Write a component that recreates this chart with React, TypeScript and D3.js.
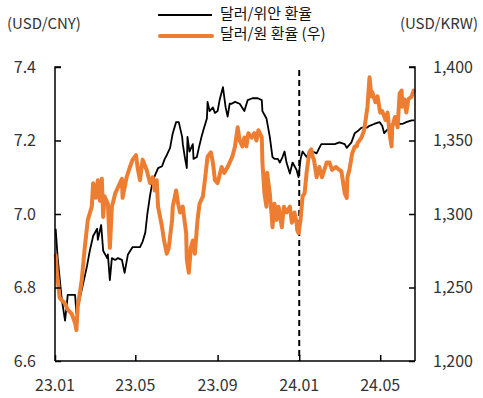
import { useEffect, useRef } from 'react';
import * as d3 from 'd3';

// 달러/위안 (left axis)
const cnyData: [string, number][] = [
  ['2023-01-02', 6.96], ['2023-01-05', 6.88], ['2023-01-11', 6.77], ['2023-01-16', 6.71],
  ['2023-01-19', 6.76], ['2023-01-20', 6.78], ['2023-01-31', 6.78], ['2023-02-02', 6.73],
  ['2023-02-07', 6.77], ['2023-02-12', 6.81], ['2023-02-18', 6.86], ['2023-02-22', 6.90],
  ['2023-02-27', 6.94], ['2023-03-05', 6.96], ['2023-03-06', 6.93], ['2023-03-11', 6.97],
  ['2023-03-14', 6.90], ['2023-03-20', 6.88], ['2023-03-21', 6.89], ['2023-03-24', 6.82],
  ['2023-03-27', 6.88], ['2023-04-01', 6.875], ['2023-04-05', 6.88], ['2023-04-11', 6.875],
  ['2023-04-15', 6.84], ['2023-04-20', 6.89], ['2023-04-27', 6.91], ['2023-05-05', 6.91],
  ['2023-05-08', 6.91], ['2023-05-12', 6.925], ['2023-05-16', 6.95], ['2023-05-19', 7.0],
  ['2023-05-23', 7.05], ['2023-05-27', 7.09], ['2023-06-04', 7.125], ['2023-06-10', 7.13],
  ['2023-06-14', 7.15], ['2023-06-17', 7.16], ['2023-06-22', 7.18], ['2023-06-26', 7.22],
  ['2023-07-01', 7.25], ['2023-07-05', 7.25], ['2023-07-10', 7.21], ['2023-07-11', 7.19],
  ['2023-07-14', 7.155], ['2023-07-17', 7.125], ['2023-07-18', 7.21], ['2023-07-21', 7.17],
  ['2023-07-26', 7.19], ['2023-07-27', 7.15], ['2023-08-01', 7.155], ['2023-08-04', 7.18],
  ['2023-08-08', 7.21], ['2023-08-11', 7.23], ['2023-08-16', 7.26], ['2023-08-17', 7.305],
  ['2023-08-20', 7.28], ['2023-08-25', 7.29], ['2023-08-28', 7.275], ['2023-09-01', 7.28],
  ['2023-09-04', 7.31], ['2023-09-09', 7.345], ['2023-09-13', 7.29], ['2023-09-16', 7.265],
  ['2023-09-19', 7.30], ['2023-09-22', 7.30], ['2023-09-27', 7.305], ['2023-10-04', 7.30],
  ['2023-10-11', 7.28], ['2023-10-16', 7.31], ['2023-10-23', 7.315], ['2023-10-31', 7.315],
  ['2023-11-06', 7.31], ['2023-11-07', 7.28], ['2023-11-13', 7.26], ['2023-11-18', 7.21],
  ['2023-11-22', 7.155], ['2023-11-25', 7.15], ['2023-11-30', 7.15], ['2023-12-03', 7.14],
  ['2023-12-07', 7.155], ['2023-12-10', 7.17], ['2023-12-13', 7.14], ['2023-12-18', 7.11],
  ['2023-12-22', 7.14], ['2023-12-28', 7.12], ['2023-12-31', 7.10], ['2024-01-03', 7.15],
  ['2024-01-06', 7.17], ['2024-01-12', 7.155], ['2024-01-16', 7.17], ['2024-01-21', 7.17],
  ['2024-01-27', 7.165], ['2024-01-31', 7.18], ['2024-02-03', 7.19], ['2024-02-08', 7.19],
  ['2024-02-15', 7.19], ['2024-02-23', 7.19], ['2024-03-01', 7.195], ['2024-03-09', 7.19],
  ['2024-03-12', 7.18], ['2024-03-19', 7.195], ['2024-03-24', 7.22], ['2024-03-28', 7.225],
  ['2024-04-03', 7.235], ['2024-04-11', 7.235], ['2024-04-15', 7.24], ['2024-04-22', 7.245],
  ['2024-04-30', 7.25], ['2024-05-04', 7.24], ['2024-05-07', 7.22], ['2024-05-12', 7.23],
  ['2024-05-19', 7.245], ['2024-05-27', 7.245], ['2024-06-03', 7.245], ['2024-06-09', 7.25],
  ['2024-06-17', 7.255], ['2024-06-21', 7.255],
];

// 달러/원 (right axis)
const krwData: [string, number][] = [
  ['2023-01-02', 1272], ['2023-01-04', 1260], ['2023-01-08', 1243], ['2023-01-16', 1239],
  ['2023-01-20', 1235], ['2023-01-26', 1232], ['2023-01-31', 1226], ['2023-02-02', 1221],
  ['2023-02-04', 1237], ['2023-02-10', 1255], ['2023-02-14', 1275], ['2023-02-19', 1296],
  ['2023-02-25', 1305], ['2023-02-27', 1321], ['2023-03-03', 1311], ['2023-03-06', 1323],
  ['2023-03-09', 1309], ['2023-03-12', 1324], ['2023-03-14', 1298], ['2023-03-16', 1312],
  ['2023-03-21', 1307], ['2023-03-24', 1277], ['2023-03-27', 1305], ['2023-04-01', 1314],
  ['2023-04-05', 1318], ['2023-04-11', 1324], ['2023-04-12', 1311], ['2023-04-18', 1325],
  ['2023-04-23', 1332], ['2023-04-27', 1337], ['2023-05-02', 1340], ['2023-05-05', 1330],
  ['2023-05-08', 1323], ['2023-05-12', 1337], ['2023-05-18', 1330], ['2023-05-23', 1321],
  ['2023-05-27', 1325], ['2023-05-30', 1316], ['2023-06-02', 1323], ['2023-06-04', 1305],
  ['2023-06-10', 1291], ['2023-06-13', 1282], ['2023-06-17', 1273], ['2023-06-20', 1277],
  ['2023-06-25', 1296], ['2023-06-26', 1305], ['2023-07-01', 1316], ['2023-07-04', 1307],
  ['2023-07-07', 1301], ['2023-07-11', 1305], ['2023-07-12', 1301], ['2023-07-16', 1287],
  ['2023-07-17', 1269], ['2023-07-20', 1260], ['2023-07-23', 1277], ['2023-07-26', 1282],
  ['2023-07-29', 1273], ['2023-08-02', 1296], ['2023-08-05', 1307], ['2023-08-10', 1312],
  ['2023-08-13', 1323], ['2023-08-17', 1339], ['2023-08-22', 1342], ['2023-08-25', 1335],
  ['2023-08-28', 1323], ['2023-09-01', 1321], ['2023-09-07', 1332], ['2023-09-11', 1328],
  ['2023-09-16', 1332], ['2023-09-19', 1335], ['2023-09-23', 1339], ['2023-09-27', 1346],
  ['2023-10-01', 1359], ['2023-10-04', 1350], ['2023-10-08', 1346], ['2023-10-11', 1352],
  ['2023-10-14', 1346], ['2023-10-17', 1355], ['2023-10-22', 1352], ['2023-10-26', 1355],
  ['2023-10-29', 1350], ['2023-11-01', 1357], ['2023-11-06', 1352], ['2023-11-07', 1335],
  ['2023-11-10', 1314], ['2023-11-13', 1305], ['2023-11-14', 1328], ['2023-11-18', 1314],
  ['2023-11-21', 1298], ['2023-11-22', 1291], ['2023-11-25', 1307], ['2023-11-28', 1296],
  ['2023-12-01', 1305], ['2023-12-06', 1291], ['2023-12-09', 1305], ['2023-12-13', 1301],
  ['2023-12-18', 1305], ['2023-12-21', 1294], ['2023-12-25', 1301], ['2023-12-28', 1294],
  ['2023-12-29', 1289], ['2023-12-31', 1287], ['2024-01-03', 1296], ['2024-01-06', 1312],
  ['2024-01-09', 1314], ['2024-01-12', 1328], ['2024-01-16', 1342], ['2024-01-19', 1344],
  ['2024-01-21', 1339], ['2024-01-23', 1337], ['2024-01-27', 1325], ['2024-01-31', 1332],
  ['2024-02-04', 1325], ['2024-02-11', 1335], ['2024-02-15', 1335], ['2024-02-19', 1330],
  ['2024-02-25', 1332], ['2024-03-01', 1330], ['2024-03-04', 1329], ['2024-03-09', 1314],
  ['2024-03-12', 1311], ['2024-03-13', 1325], ['2024-03-16', 1330], ['2024-03-20', 1341],
  ['2024-03-24', 1346], ['2024-03-27', 1346], ['2024-03-28', 1348], ['2024-04-03', 1352],
  ['2024-04-07', 1357], ['2024-04-12', 1373], ['2024-04-15', 1393], ['2024-04-18', 1380],
  ['2024-04-19', 1383], ['2024-04-24', 1376], ['2024-04-27', 1380], ['2024-05-01', 1369],
  ['2024-05-04', 1370], ['2024-05-09', 1364], ['2024-05-12', 1369], ['2024-05-15', 1355],
  ['2024-05-18', 1346], ['2024-05-19', 1359], ['2024-05-23', 1366], ['2024-05-27', 1359],
  ['2024-05-30', 1382], ['2024-06-02', 1384], ['2024-06-03', 1373], ['2024-06-06', 1378],
  ['2024-06-09', 1369], ['2024-06-12', 1378], ['2024-06-17', 1380], ['2024-06-20', 1384],
];

const cnyTicks = [6.6, 6.8, 7.0, 7.2, 7.4];
const krwTicks = [1200, 1250, 1300, 1350, 1400];
const xTicks = ['2023-01-01', '2023-05-01', '2023-09-01', '2024-01-01', '2024-05-01'];
const xTickLabels = ['23.01', '23.05', '23.09', '24.01', '24.05'];
const dividerDate = '2024-01-01';
const seriesNames = ['달러/위안 환율', '달러/원 환율 (우)'];

const ORANGE = '#ED7D31';
const FONT = '"Noto Sans CJK KR", "Noto Sans", sans-serif';

const App = () => {
  const ref = useRef<SVGSVGElement>(null);

  useEffect(() => {
    const width = 483;
    const height = 398;
    const left = 55;
    const right = 415;
    const top = 67;
    const bottom = 361;

    const parse = d3.utcParse('%Y-%m-%d');
    const svg = d3.select(ref.current);
    svg.selectAll('*').remove();
    svg.attr('width', width).attr('height', height).attr('viewBox', [0, 0, width, height]);

    const x = d3.scaleUtc()
      .domain([parse('2023-01-01')!, parse('2024-06-22')!])
      .range([left, right]);
    const yL = d3.scaleLinear().domain([6.6, 7.4]).range([bottom, top]);
    const yR = d3.scaleLinear().domain([1200, 1400]).range([bottom, top]);

    const lineL = d3.line<[string, number]>()
      .x(d => x(parse(d[0])!))
      .y(d => yL(d[1]));
    const lineR = d3.line<[string, number]>()
      .x(d => x(parse(d[0])!))
      .y(d => yR(d[1]));

    // dashed divider at 24.01
    svg.append('line')
      .attr('x1', x(parse(dividerDate)!)).attr('x2', x(parse(dividerDate)!))
      .attr('y1', top + 3).attr('y2', bottom)
      .attr('stroke', '#000').attr('stroke-width', 2)
      .attr('stroke-dasharray', '6,4');

    svg.append('path')
      .datum(cnyData)
      .attr('fill', 'none')
      .attr('stroke', '#000')
      .attr('stroke-width', 1.8)
      .attr('stroke-linejoin', 'round')
      .attr('d', lineL);

    // orange sits on top of the black line
    svg.append('path')
      .datum(krwData)
      .attr('fill', 'none')
      .attr('stroke', ORANGE)
      .attr('stroke-width', 4)
      .attr('stroke-linejoin', 'round')
      .attr('stroke-linecap', 'round')
      .attr('d', lineR);

    // axes
    svg.append('g')
      .attr('transform', `translate(${left},0)`)
      .call(d3.axisRight(yL).tickValues(cnyTicks).tickSize(6).tickFormat(() => ''))
      .call(g => g.select('.domain').attr('d', `M6,${top}H0V${bottom}`).attr('stroke-width', 1.5))
      .call(g => g.selectAll('.tick line').attr('stroke-width', 1.5));

    svg.append('g')
      .attr('transform', `translate(${right},0)`)
      .call(d3.axisLeft(yR).tickValues(krwTicks).tickSize(6).tickFormat(() => ''))
      .call(g => g.select('.domain').attr('d', `M-6,${top}H0V${bottom}`).attr('stroke-width', 1.5))
      .call(g => g.selectAll('.tick line').attr('stroke-width', 1.5));

    svg.append('g')
      .attr('transform', `translate(0,${bottom})`)
      .call(d3.axisTop(x).tickValues(xTicks.map(d => parse(d)!)).tickSize(6).tickFormat(() => ''))
      .call(g => g.select('.domain').attr('d', `M${left},0H${right}`).attr('stroke-width', 1.5))
      .call(g => g.selectAll('.tick line').attr('stroke-width', 1.5));

    const txt = svg.append('g')
      .attr('font-family', FONT)
      .attr('fill', '#333');

    txt.selectAll('.yl')
      .data(cnyTicks)
      .join('text')
      .attr('x', 36)
      .attr('y', d => yL(d))
      .attr('dy', '0.35em')
      .attr('text-anchor', 'end')
      .attr('font-size', 16)
      .text(d => d.toFixed(1));

    txt.selectAll('.yr')
      .data(krwTicks)
      .join('text')
      .attr('x', 433)
      .attr('y', d => yR(d))
      .attr('dy', '0.35em')
      .attr('font-size', 16)
      .text(d => d3.format(',')(d));

    txt.selectAll('.xl')
      .data(xTicks)
      .join('text')
      .attr('x', d => x(parse(d)!))
      .attr('y', 385)
      .attr('dy', '0.35em')
      .attr('text-anchor', 'middle')
      .attr('font-size', 16)
      .text((d, i) => xTickLabels[i]);

    txt.append('text')
      .attr('x', 7).attr('y', 24).attr('dy', '0.35em')
      .attr('font-size', 15)
      .text('(USD/CNY)');
    txt.append('text')
      .attr('x', 478).attr('y', 24).attr('dy', '0.35em')
      .attr('text-anchor', 'end')
      .attr('font-size', 15)
      .text('(USD/KRW)');

    // legend
    svg.append('line')
      .attr('x1', 158).attr('x2', 212).attr('y1', 15).attr('y2', 15)
      .attr('stroke', '#000').attr('stroke-width', 2);
    svg.append('line')
      .attr('x1', 160).attr('x2', 212).attr('y1', 36).attr('y2', 36)
      .attr('stroke', ORANGE).attr('stroke-width', 4).attr('stroke-linecap', 'round');
    txt.append('text')
      .attr('x', 220).attr('y', 14).attr('dy', '0.35em')
      .attr('font-size', 15)
      .attr('fill', '#111')
      .text(seriesNames[0]);
    txt.append('text')
      .attr('x', 220).attr('y', 34).attr('dy', '0.35em')
      .attr('font-size', 15)
      .attr('fill', '#111')
      .text(seriesNames[1]);
  }, []);

  return (
    <svg
      ref={ref}
      style={{ position: 'absolute', left: 0, top: 0, display: 'block', background: '#fff' }}
    />
  );
};

export default App;
